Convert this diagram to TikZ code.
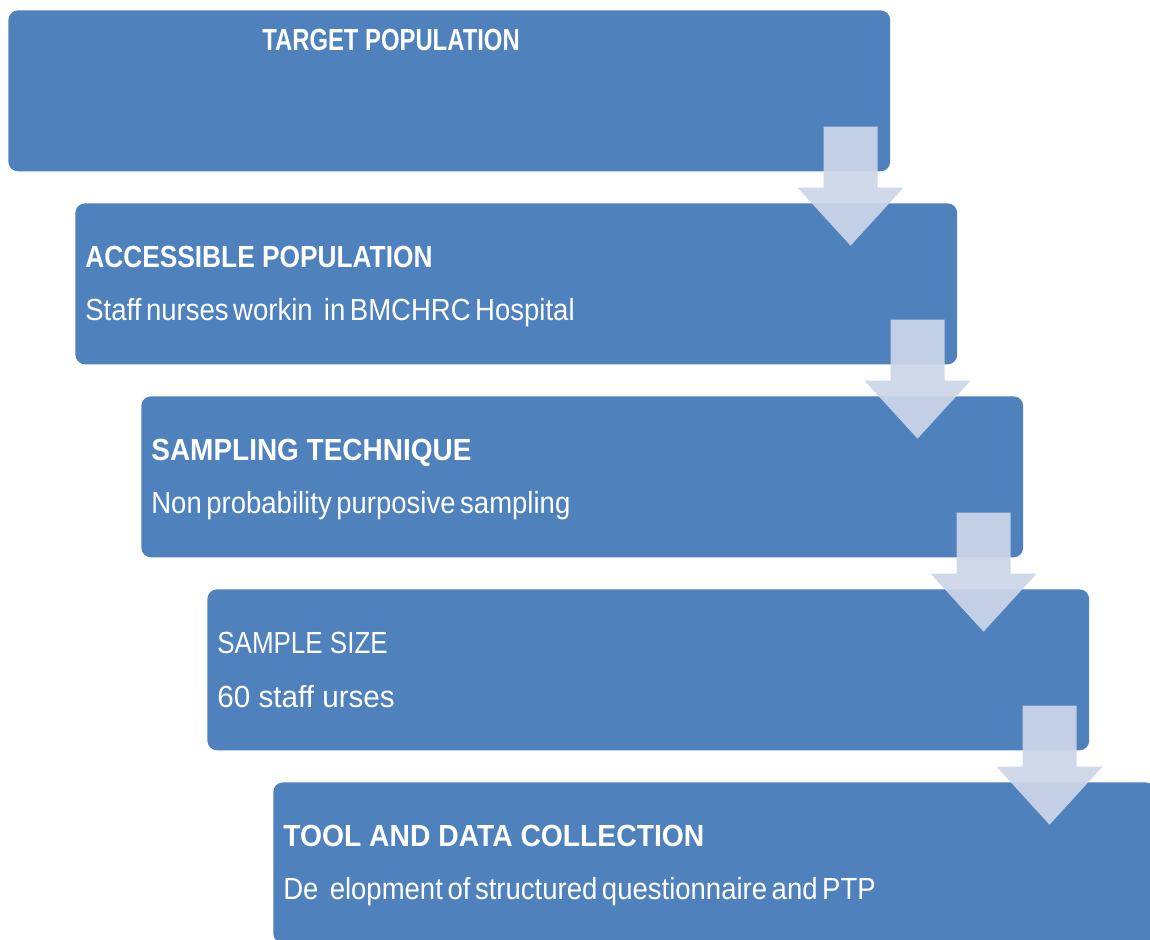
\documentclass[tikz,border=0pt]{standalone}
\usepackage{fontspec}
\setmainfont{Liberation Sans}
\newfontfamily\headfont[FakeStretch=0.86]{Liberation Sans}
\newfontfamily\wideheadfont[FakeStretch=0.915]{Liberation Sans}
\newfontfamily\widerheadfont[FakeStretch=0.925]{Liberation Sans}
\newfontfamily\topfont[FakeStretch=0.78]{Liberation Sans}
\newfontfamily\bodyfont[FakeStretch=0.9,WordSpace=0.6]{Liberation Sans}
\newfontfamily\plainfont[FakeStretch=0.85]{Liberation Sans}
\newfontfamily\countfont[FakeStretch=0.97]{Liberation Sans}
\usetikzlibrary{calc}
\definecolor{boxblue}{RGB}{79,129,189}
\definecolor{arrowfill}{RGB}{205,214,232}

% Down arrow between two stacked stages, placed from the upper stage's corner
\newcommand\stagearrow[1]{%
  \fill[flowarrow] ($(#1.south east)+(-67,-45)$) -- ++(54,0) -- ++(0,61)
    -- ++(26,0) -- ++(-53,58) -- ++(-53,-58) -- ++(26,0) -- cycle;}

\begin{document}
\begin{tikzpicture}[x=0.02cm,y=-0.02cm,
  stage/.style={fill=boxblue, draw=none, rounded corners=5.5pt,
    minimum width=17.64cm, minimum height=3.22cm, inner sep=0pt,
    anchor=north west},
  heading/.style={text=white, inner sep=0pt, anchor=base west,
    font=\headfont\bfseries\fontsize{17.4}{20}\selectfont},
  detail/.style={text=white, inner sep=0pt, anchor=base west,
    font=\bodyfont\fontsize{17.4}{20}\selectfont},
  plain/.style={text=white, inner sep=0pt, anchor=base west,
    font=\plainfont\fontsize{17.4}{20}\selectfont},
  flowarrow/.style={fill=arrowfill, fill opacity=0.92}]

\clip (0,0) rectangle (1150,940);
\fill[white] (0,0) rectangle (1150,940);

% stages
\node[stage] (target) at (8,10) {};
\node[stage] (access) at (75,203) {};
\node[stage] (sampling) at (141,396) {};
\node[stage] (size) at (207,589) {};
\node[stage] (tool) at (273,782) {};

% arrows linking the stages
\stagearrow{target}
\stagearrow{access}
\stagearrow{sampling}
\stagearrow{size}

% texts
\node[heading, anchor=base, font=\topfont\bfseries\fontsize{17.4}{20}\selectfont]
  (targetT) at ($(target.north west)+(383,40)$) {TARGET POPULATION};

\node[heading] (accessT) at ($(access.north west)+(10,64)$) {ACCESSIBLE POPULATION};
\node[detail] (accessD) at ($(access.north west)+(10,117)$) {Staff nurses workin\hspace{3.8pt} in BMCHRC Hospital};

\node[heading, font=\wideheadfont\bfseries\fontsize{17.4}{20}\selectfont]
  (samplingT) at ($(sampling.north west)+(10,64)$) {SAMPLING TECHNIQUE};
\node[detail] (samplingD) at ($(sampling.north west)+(10,117)$) {Non probability purposive sampling};

\node[plain] (sizeT) at ($(size.north west)+(10,64)$) {SAMPLE SIZE};
\node[plain, font=\countfont\fontsize{17.4}{20}\selectfont]
  (sizeD) at ($(size.north west)+(10,118)$) {60 staff urses};

\node[heading, font=\widerheadfont\bfseries\fontsize{17.4}{20}\selectfont]
  (toolT) at ($(tool.north west)+(10,64)$) {TOOL AND DATA COLLECTION};
\node[detail] (toolD) at ($(tool.north west)+(10,117)$) {De\hspace{3.8pt} elopment of structured questionnaire and PTP};
\end{tikzpicture}
\end{document}
